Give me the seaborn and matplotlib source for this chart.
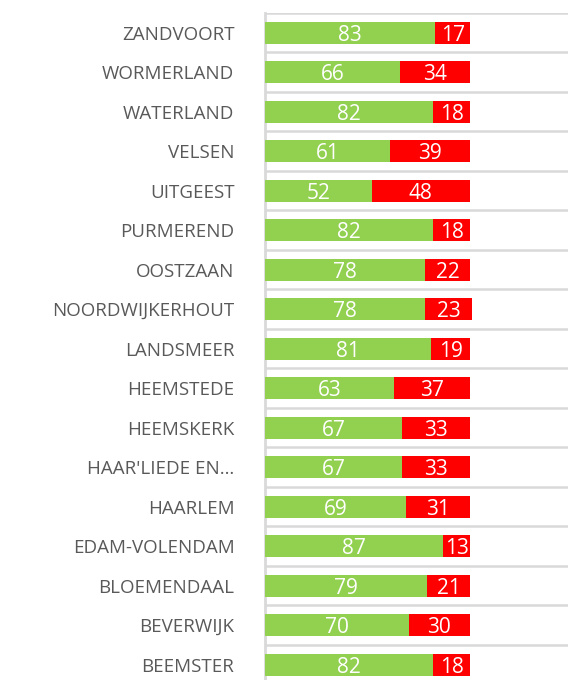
import matplotlib
matplotlib.use("Agg")
import matplotlib.pyplot as plt
import seaborn as sns
import numpy as np
import pandas as pd

categories = ["ZANDVOORT", "WORMERLAND", "WATERLAND", "VELSEN", "UITGEEST",
              "PURMEREND", "OOSTZAAN", "NOORDWIJKERHOUT", "LANDSMEER", "HEEMSTEDE",
              "HEEMSKERK", "HAAR'LIEDE EN\u2026", "HAARLEM", "EDAM-VOLENDAM",
              "BLOEMENDAAL", "BEVERWIJK", "BEEMSTER"]
green_vals = [83, 66, 82, 61, 52, 82, 78, 78, 81, 63, 67, 67, 69, 87, 79, 70, 82]
red_vals = [17, 34, 18, 39, 48, 18, 22, 23, 19, 37, 33, 33, 31, 13, 21, 30, 18]

GREEN = "#92D050"
RED = "#FF0000"
GRID = "#D9D9D9"

df = pd.DataFrame({"cat": categories, "green": green_vals, "red": red_vals})
df["total"] = df["green"] + df["red"]

sns.set_style("white")
plt.rcParams["font.family"] = ["Open Sans", "DejaVu Sans"]

fig = plt.figure(figsize=(5.68, 6.80), dpi=100)
ax = fig.add_axes([265 / 568, -0.0066, 303 / 568, 0.9875])

sns.barplot(data=df, x="total", y="cat", color=RED, orient="h", width=0.56,
            saturation=1, ax=ax, zorder=3, linewidth=0)
sns.barplot(data=df, x="green", y="cat", color=GREEN, orient="h", width=0.56,
            saturation=1, ax=ax, zorder=3, linewidth=0)

ax.set_xlim(0, 147.8)
ax.set_ylim(len(categories) - 0.5, -0.5)
ax.set_xlabel("")
ax.set_ylabel("")
ax.set_xticks([])

for i, (g, r) in enumerate(zip(green_vals, red_vals)):
    ax.text(g / 2, i, str(g), ha="center", va="center_baseline", color="white",
            fontsize=15, zorder=4)
    ax.text(g + r / 2, i, str(r), ha="center", va="center_baseline", color="white",
            fontsize=15, zorder=4)

ax.set_yticks(np.arange(len(categories)))
ax.set_yticklabels(categories, fontsize=13.5, color="#595959")
ax.tick_params(axis="y", length=0, pad=22)
ax.set_yticks(np.arange(len(categories) + 1) - 0.5, minor=True)
ax.tick_params(axis="y", which="minor", length=0)
ax.grid(which="minor", axis="y", color=GRID, linewidth=1.8, zorder=0)
ax.grid(which="major", visible=False)

for s in ["top", "right", "bottom"]:
    ax.spines[s].set_visible(False)
ax.spines["left"].set_color(GRID)
ax.spines["left"].set_linewidth(2)

fig.savefig("out.png", dpi=100)
